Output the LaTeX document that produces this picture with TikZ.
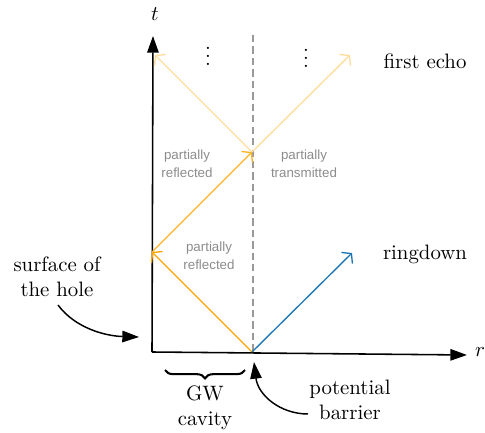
\documentclass[tikz,border=0pt]{standalone}
\usepackage{fontspec}
\newfontfamily\lab{Liberation Sans}
\usetikzlibrary{arrows.meta,decorations.pathreplacing}
\definecolor{mporange}{HTML}{FFA500}
\definecolor{mpblue}{HTML}{1F77B4}
\begin{document}
\begin{tikzpicture}[x=0.48pt,y=-0.48pt,
  axis/.style={line width=0.75pt,-{Triangle[length=8pt,width=5.5pt]}},
  ray/.style={line width=0.65pt,-{Straight Barb[length=3pt,width=7.5pt]}},
  pointer/.style={line width=0.7pt,-{Triangle[length=8pt,width=5.5pt]}},
  note/.style={font=\lab\fontsize{6.4}{8.6}\selectfont,text=black!45,align=center,inner sep=0pt},
  txt/.style={align=center,inner sep=0pt}]
\useasboundingbox (0,0) rectangle (485,433);
\coordinate (O) at (152,352);
\coordinate (T) at (153,36);
\coordinate (R) at (467,355);
\coordinate (B) at (252,352);
\coordinate (L1) at (152,252);
\coordinate (M) at (252,152);
\coordinate (L2) at (155,55);
\coordinate (Rt) at (350,55);
\coordinate (RD) at (352,253);
\coordinate (D1) at (253,35);
\coordinate (D2) at (253,352);
% barrier line
\draw[black!40,line width=0.6pt,dash pattern=on 3.5pt off 2pt] (D1) -- (D2);
% axes
\draw[axis] (O) -- (T);
\draw[axis] (O) -- (R);
\node[txt] (tl) at (155,14) {$t$};
\node[txt] (rl) at (480,352) {$r$};
% rays
\draw[ray,mporange] (B) -- (L1);
\draw[ray,mporange!85!white] (L1) -- (M);
\draw[ray,mporange!38!white] (M) -- (L2);
\draw[ray,mporange!38!white] (M) -- (Rt);
\draw[ray,mpblue] (B) -- (RD);
% dots
\node[txt] (v1) at (208,50) {$\vdots$};
\node[txt] (v2) at (306,52) {$\vdots$};
% labels
\node[txt] (echo) at (425,61) {first echo};
\node[txt] (ring) at (425,254) {ringdown};
\node[note] (pr1) at (187,164) {partially\\reflected};
\node[note] (pt) at (304,164) {partially\\transmitted};
\node[note] (pr2) at (209,256) {partially\\reflected};
\node[txt] (hole) at (57,277) {surface of\\the hole};
\node[txt] (cav) at (205,408) {GW\\cavity};
\node[txt] (pot) at (350,400) {potential\\barrier};
% brace
\draw[line width=1pt,decorate,decoration={brace,mirror,amplitude=4pt}] (165,370) -- (245,370);
% pointers
\coordinate (h1) at (58,305);
\coordinate (h2) at (139,337);
\draw[pointer] (h1) .. controls (75,328) and (105,336) .. (h2);
\coordinate (p1) at (308,414);
\coordinate (p2) at (254,362);
\draw[pointer] (p1) .. controls (280,414) and (258,395) .. (p2);
\end{tikzpicture}
\end{document}
